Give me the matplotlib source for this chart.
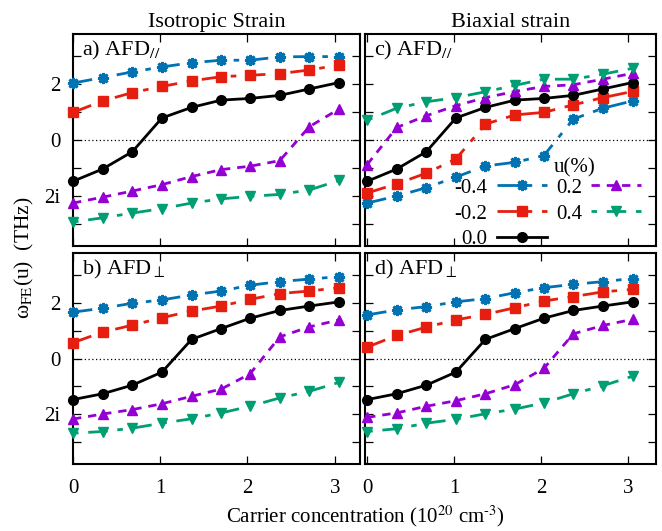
import matplotlib
matplotlib.use("Agg")
import matplotlib.pyplot as plt
from matplotlib.ticker import FixedLocator

plt.rcParams['font.family'] = ['Liberation Serif', 'DejaVu Serif']
plt.rcParams['mathtext.fontset'] = 'stix'
plt.rcParams['font.size'] = 15

# carrier concentration (10^20 cm^-3)
conc = [0, 0.34, 0.68, 1.02, 1.36, 1.70, 2.03, 2.37, 2.71, 3.05]
u_labels = ['-0.4', '-0.2', '0.0', '0.2', '0.4']

# omega_FE (THz), negative = imaginary; rows follow u_labels
iso_par = [
    [2.04, 2.24, 2.44, 2.62, 2.77, 2.86, 2.86, 2.98, 2.99, 2.99],
    [0.99, 1.40, 1.70, 1.92, 2.12, 2.27, 2.32, 2.38, 2.51, 2.69],
    [-1.48, -1.04, -0.42, 0.79, 1.17, 1.43, 1.49, 1.60, 1.83, 2.06],
    [-2.26, -2.05, -1.83, -1.60, -1.31, -1.06, -0.94, -0.74, 0.48, 1.11],
    [-2.94, -2.79, -2.62, -2.46, -2.26, -2.11, -2.02, -1.95, -1.79, -1.45],
]
iso_perp = [
    [1.67, 1.81, 1.99, 2.11, 2.29, 2.43, 2.64, 2.77, 2.86, 2.95],
    [0.57, 0.95, 1.20, 1.47, 1.71, 1.89, 2.13, 2.34, 2.43, 2.55],
    [-1.48, -1.27, -0.96, -0.49, 0.69, 1.08, 1.45, 1.73, 1.89, 2.04],
    [-2.18, -2.00, -1.84, -1.63, -1.36, -1.10, -0.55, 0.78, 1.14, 1.39],
    [-2.69, -2.63, -2.51, -2.33, -2.17, -1.96, -1.72, -1.42, -1.18, -0.86],
]
bi_par = [
    [-2.26, -2.01, -1.71, -1.33, -0.93, -0.80, -0.56, 0.75, 1.14, 1.40],
    [-1.90, -1.57, -1.19, -0.68, 0.57, 0.90, 0.99, 1.26, 1.52, 1.74],
    [-1.48, -1.04, -0.42, 0.79, 1.17, 1.43, 1.49, 1.60, 1.83, 2.06],
    [-0.88, 0.45, 0.87, 1.23, 1.52, 1.74, 1.92, 1.98, 2.18, 2.39],
    [0.71, 1.14, 1.37, 1.52, 1.73, 1.96, 2.18, 2.18, 2.36, 2.57],
]
bi_perp = [
    [1.57, 1.75, 1.87, 2.04, 2.16, 2.37, 2.55, 2.67, 2.77, 2.88],
    [0.41, 0.83, 1.13, 1.39, 1.59, 1.83, 2.07, 2.23, 2.40, 2.49],
    [-1.48, -1.27, -0.96, -0.49, 0.69, 1.08, 1.45, 1.73, 1.89, 2.04],
    [-2.12, -1.96, -1.72, -1.52, -1.27, -0.94, -0.36, 0.89, 1.19, 1.41],
    [-2.63, -2.53, -2.33, -2.19, -1.99, -1.82, -1.60, -1.27, -0.98, -0.64],
]

colors = ['#0072b2', '#e51e10', 'black', '#9400d3', '#009e73']
markers = [(8, 2, 0), 's', 'o', '^', 'v']
msizes = [8, 7, 7, 7, 7]
dashes = [(0, (7, 3.5, 2, 3.5)), (0, (7, 3.5, 2, 3.5)), '-', (0, (3, 2.5)), (0, (2, 3.5, 7, 3.5))]

W, H = 662, 531
fig = plt.figure(figsize=(W / 100, H / 100), dpi=100)


def box(x0, y0, x1, y1):
    return [x0 / W, 1 - y1 / H, (x1 - x0) / W, (y1 - y0) / H]


ax_a = fig.add_axes(box(73, 34, 360, 246))
ax_b = fig.add_axes(box(73, 253, 360, 464))
ax_c = fig.add_axes(box(365, 34, 656, 246))
ax_d = fig.add_axes(box(365, 253, 656, 464))

panels = [
    (ax_a, iso_par, 'a) AFD$_{//}$'),
    (ax_b, iso_perp, 'b) AFD$_{\\perp}$'),
    (ax_c, bi_par, 'c) AFD$_{//}$'),
    (ax_d, bi_perp, 'd) AFD$_{\\perp}$'),
]

for ax, rows, name in panels:
    ax.axhline(0, color='black', lw=0.9, ls=(0, (1, 2)), zorder=1)
    for i, vals in enumerate(rows):
        ax.plot(conc, vals, color=colors[i], marker=markers[i], ms=msizes[i],
                mew=2 if i == 0 else 1, lw=2, linestyle=dashes[i],
                label=u_labels[i], clip_on=False, zorder=3)
    ax.set_ylim(-3.8, 3.8)
    ax.yaxis.set_major_locator(FixedLocator([-2, 0, 2]))
    ax.yaxis.set_minor_locator(FixedLocator([-3, -1, 1, 3]))
    ax.xaxis.set_major_locator(FixedLocator([0, 1, 2, 3]))
    ax.tick_params(which='both', direction='in', top=True, right=True,
                   length=6, width=0.9, labelsize=15)
    ax.tick_params(axis='x', pad=11)
    ax.tick_params(axis='y', pad=9)
    for s in ax.spines.values():
        s.set_linewidth(1.5)
    ax.text(0.03, 0.975, name, transform=ax.transAxes, ha='left', va='top',
            fontsize=16)

for ax in (ax_a, ax_b):
    ax.set_xlim(0, 3.29)
    ax.set_yticklabels(['2i', '0', '2'])
for ax in (ax_c, ax_d):
    ax.set_xlim(-0.025, 3.32)
    ax.set_yticklabels([])
for ax in (ax_a, ax_c):
    ax.set_xticklabels([])

ax_a.set_title('Isotropic Strain', fontsize=16, pad=5)
ax_c.set_title('Biaxial strain', fontsize=16, pad=5)

# legend in panel c, gnuplot-like: text left of sample, title placed by hand
leg = ax_c.legend(ncol=2, markerfirst=False, frameon=False,
                  loc='lower right', bbox_to_anchor=(1.0, -0.085),
                  fontsize=15, handlelength=2.4,
                  handletextpad=0.45, columnspacing=0.45, labelspacing=0.3,
                  borderpad=0.2)
for t in leg.get_texts():
    t.set_ha('right')
ax_c.text(0.72, 0.37, 'u(%)', transform=ax_c.transAxes, ha='center',
          va='center', fontsize=15)

fig.text(365 / W, 1 - 516 / H, 'Carrier concentration (10$^{20}$ cm$^{\\text{-}3}$)',
         ha='center', va='center', fontsize=15)
fig.text(24 / W, 1 - 258 / H, 'ω$_{\\mathrm{FE}}$(u)  (THz)', rotation=90,
         ha='center', va='center', fontsize=15.5)

fig.savefig('out.png', dpi=100)
